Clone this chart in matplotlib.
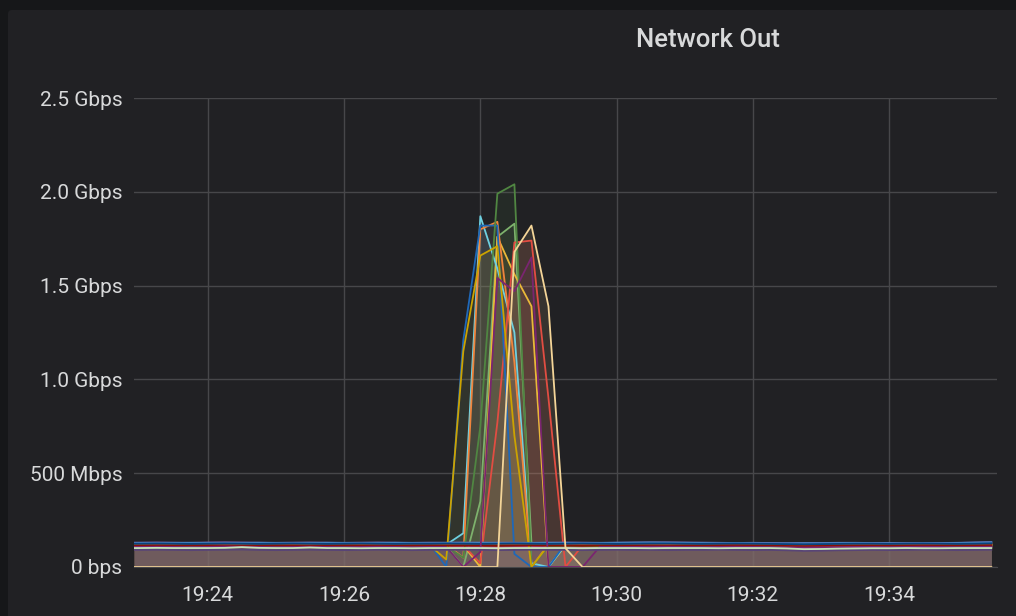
import matplotlib
matplotlib.use('Agg')
import matplotlib.pyplot as plt
import matplotlib.dates as mdates
from matplotlib.patches import FancyBboxPatch
from matplotlib.transforms import IdentityTransform
import pandas as pd

# sample times: range start, then every 15 s
times = [pd.Timestamp('2019-01-01 19:22:55')] + list(
    pd.date_range('2019-01-01 19:23:00', '2019-01-01 19:35:30', freq='15s'))

# values in Mbps, one list per host
green_b = [110, 110, 111, 110, 109, 110, 112, 111, 110, 109, 110, 111, 110,
           109, 110, 111, 110, 109, 110, 110, 0, 350, 1760, 1830, 130, 110,
           111, 110, 109, 110, 111, 112, 111, 110, 109, 110, 111, 110, 109,
           108, 107, 108, 109, 110, 110, 109, 110, 111, 110, 109, 110, 111]
yellow_b = [115, 115, 116, 115, 114, 115, 116, 115, 114, 115, 116, 115, 114,
            115, 116, 115, 114, 115, 115, 115, 115, 0, 1760, 1560, 1390, 0,
            115, 116, 115, 114, 115, 116, 116, 115, 114, 115, 116, 115, 114,
            113, 112, 113, 114, 115, 115, 114, 115, 116, 115, 114, 115, 116]
lightblue = [119, 119, 120, 119, 118, 119, 121, 120, 119, 118, 119, 120, 119,
             118, 119, 120, 119, 118, 119, 119, 180, 1870, 1590, 1250, 20, 0,
             119, 120, 119, 118, 119, 120, 120, 119, 118, 119, 120, 119, 118,
             117, 116, 117, 118, 119, 119, 118, 119, 120, 119, 118, 119, 120]
orange = [121, 122, 121, 120, 121, 123, 122, 121, 120, 121, 122, 121, 120,
          121, 122, 121, 120, 121, 122, 121, 50, 1800, 1840, 1090, 0, 121,
          122, 121, 120, 121, 122, 123, 122, 121, 120, 121, 122, 121, 120,
          118, 117, 118, 119, 120, 121, 120, 119, 120, 121, 120, 121, 122]
red = [116, 116, 117, 116, 115, 116, 118, 117, 116, 115, 116, 117, 116,
       115, 116, 117, 116, 115, 116, 116, 116, 20, 770, 1730, 1740, 900,
       0, 116, 117, 116, 117, 118, 118, 117, 116, 117, 118, 117, 116,
       114, 113, 114, 115, 116, 116, 115, 116, 117, 116, 115, 116, 117]
darkblue = [126, 127, 126, 125, 126, 127, 128, 127, 126, 125, 126, 127, 126,
            125, 126, 127, 126, 125, 126, 0, 1210, 1820, 1820, 70, 0, 0,
            126, 127, 126, 125, 126, 127, 128, 128, 127, 126, 125, 126, 125,
            124, 125, 125, 126, 126, 125, 124, 125, 126, 125, 126, 128, 130]
pink = [105, 105, 106, 105, 104, 105, 107, 106, 105, 104, 105, 106, 105,
        104, 105, 106, 105, 104, 105, 105, 106, 105, 104, 105, 106, 105,
        105, 104, 105, 106, 105, 105, 104, 105, 105, 106, 105, 104, 105,
        103, 101, 102, 103, 104, 105, 104, 105, 106, 105, 104, 105, 106]
violet = [130, 130, 131, 130, 129, 131, 132, 131, 130, 129, 130, 131, 130,
          129, 130, 131, 130, 129, 130, 130, 131, 130, 130, 130, 129, 130,
          131, 130, 129, 130, 131, 132, 132, 131, 130, 129, 128, 129, 128,
          127, 128, 128, 129, 129, 128, 128, 127, 128, 128, 129, 131, 133]
green_a = [112, 112, 113, 112, 111, 112, 114, 113, 112, 111, 112, 113, 112,
           111, 112, 113, 112, 111, 112, 112, 50, 750, 1990, 2040, 0, 112,
           113, 112, 111, 112, 113, 114, 113, 112, 111, 112, 113, 112, 111,
           110, 109, 110, 111, 112, 112, 111, 112, 113, 112, 111, 112, 113]
yellow_a = [117, 117, 118, 117, 116, 117, 118, 117, 116, 117, 118, 117, 116,
            117, 118, 117, 116, 117, 117, 40, 1150, 1660, 1710, 700, 0, 117,
            118, 117, 116, 117, 118, 119, 118, 117, 116, 117, 118, 117, 116,
            115, 114, 115, 116, 117, 117, 116, 117, 118, 117, 116, 117, 118]
blue2 = [127, 128, 127, 128, 129, 128, 127, 128, 129, 128, 127, 128, 129,
         128, 127, 128, 129, 128, 127, 128, 128, 129, 128, 127, 128, 129,
         128, 127, 128, 129, 130, 131, 130, 129, 128, 127, 128, 127, 126,
         126, 127, 127, 128, 128, 127, 127, 126, 127, 127, 128, 130, 132]
darkorange = [119, 119, 120, 119, 120, 121, 120, 119, 120, 119, 118, 119, 120,
              119, 120, 119, 118, 119, 120, 119, 120, 119, 118, 119, 120, 119,
              119, 118, 119, 120, 119, 119, 118, 119, 119, 120, 121, 120, 119,
              117, 116, 117, 118, 119, 119, 118, 119, 120, 119, 119, 120, 121]
darkred = [114, 114, 115, 114, 116, 115, 114, 113, 114, 115, 114, 113, 114,
           115, 114, 114, 113, 114, 115, 114, 114, 114, 113, 114, 115, 114,
           114, 113, 114, 115, 114, 114, 113, 114, 114, 115, 116, 115, 114,
           112, 111, 112, 113, 114, 114, 113, 114, 115, 114, 114, 115, 116]
navy = [124, 124, 125, 124, 123, 124, 125, 124, 123, 124, 125, 124, 123,
        124, 125, 124, 123, 124, 124, 125, 124, 123, 124, 125, 124, 123,
        124, 125, 124, 123, 124, 125, 125, 124, 123, 124, 125, 124, 123,
        122, 121, 122, 123, 124, 124, 123, 124, 125, 124, 123, 124, 126]
purple = [107, 107, 108, 107, 106, 107, 109, 108, 107, 106, 107, 108, 107,
          106, 107, 108, 107, 106, 107, 107, 0, 80, 1540, 1470, 1650, 0,
          0, 0, 107, 106, 107, 108, 108, 107, 106, 107, 108, 107, 106,
          105, 104, 105, 106, 107, 107, 106, 107, 108, 107, 106, 107, 108]
lilac = [91, 91, 92, 91, 90, 91, 92, 93, 91, 90, 91, 92, 91,
         90, 91, 92, 91, 90, 91, 91, 92, 91, 90, 91, 92, 91,
         91, 90, 91, 92, 91, 91, 90, 91, 91, 92, 91, 90, 91,
         89, 86, 87, 89, 90, 91, 90, 91, 92, 91, 90, 91, 92]
lightgreen = [101, 101, 102, 101, 101, 101, 102, 106, 102, 101, 101, 104, 101,
              101, 100, 101, 101, 100, 101, 101, 101, 101, 100, 101, 101, 101,
              101, 100, 101, 101, 101, 100, 101, 101, 101, 100, 101, 101, 101,
              99, 95, 96, 98, 99, 100, 100, 101, 100, 100, 101, 101, 101]
peach = [0, 0, 0, 0, 0, 0, 0, 0, 0, 0, 0, 0, 0,
         0, 0, 0, 0, 0, 0, 0, 0, 0, 0, 1680, 1820, 1390,
         100, 0, 0, 0, 0, 0, 0, 0, 0, 0, 0, 0, 0,
         0, 0, 0, 0, 0, 0, 0, 0, 0, 0, 0, 0, 0]

# drawn in this order, later hosts on top
series = [
    (green_b, '#7eb26d'),
    (yellow_b, '#eab839'),
    (lightblue, '#6ed0e0'),
    (orange, '#ef843c'),
    (red, '#e24d42'),
    (darkblue, '#1f68b8'),
    (pink, '#ba43a9'),
    (violet, '#705da0'),
    (green_a, '#508642'),
    (yellow_a, '#cca300'),
    (blue2, '#447ebc'),
    (darkorange, '#c15c17'),
    (darkred, '#890f02'),
    (navy, '#0a437c'),
    (purple, '#7a2570'),
    (lilac, '#584477'),
    (lightgreen, '#c4e4ba'),
    (peach, '#f4d598'),
]

y_ticks = [0, 500, 1000, 1500, 2000, 2500]
y_labels = ['0 bps', '500 Mbps', '1.0 Gbps', '1.5 Gbps', '2.0 Gbps', '2.5 Gbps']

plt.rcParams['font.family'] = ['Roboto', 'DejaVu Sans']
text_col = '#d8d9da'
grid_col = '#47474a'

fig = plt.figure(figsize=(10.16, 6.16), dpi=100, facecolor='#161719')
panel = FancyBboxPatch((8, -20), 1100, 626, boxstyle='round,pad=0,rounding_size=4',
                       facecolor='#212124', edgecolor='none', transform=IdentityTransform(),
                       zorder=-10)
fig.patches.append(panel)

ax = fig.add_axes([134 / 1016, 49 / 616, 863 / 1016, 469 / 616])
ax.set_facecolor('none')

for vals, col in series:
    ax.fill_between(times, 0, vals, color=col, alpha=0.1, lw=0)
for vals, col in series:
    ax.plot(times, vals, color=col, lw=1.3)

ax.set_ylim(0, 2500)
ax.set_xlim(pd.Timestamp('2019-01-01 19:22:55'), pd.Timestamp('2019-01-01 19:35:35'))
ax.set_yticks(y_ticks)
ax.set_yticklabels(y_labels)
ax.xaxis.set_major_locator(mdates.MinuteLocator(byminute=range(0, 60, 2)))
ax.xaxis.set_major_formatter(mdates.DateFormatter('%H:%M'))

ax.set_axisbelow(True)
ax.grid(True, color=grid_col, lw=1)
for s in ['top', 'right', 'left']:
    ax.spines[s].set_visible(False)
ax.spines['bottom'].set_color(grid_col)
ax.tick_params(axis='both', length=0, labelsize=15, colors=text_col)
ax.tick_params(axis='y', pad=8.5)
ax.tick_params(axis='x', pad=13.5)

fig.text(708 / 1016, 1 - 40 / 616, 'Network Out', ha='center', va='center',
         fontsize=18.5, fontweight='medium', color=text_col)

fig.savefig('out.png', dpi=100, facecolor=fig.get_facecolor())
